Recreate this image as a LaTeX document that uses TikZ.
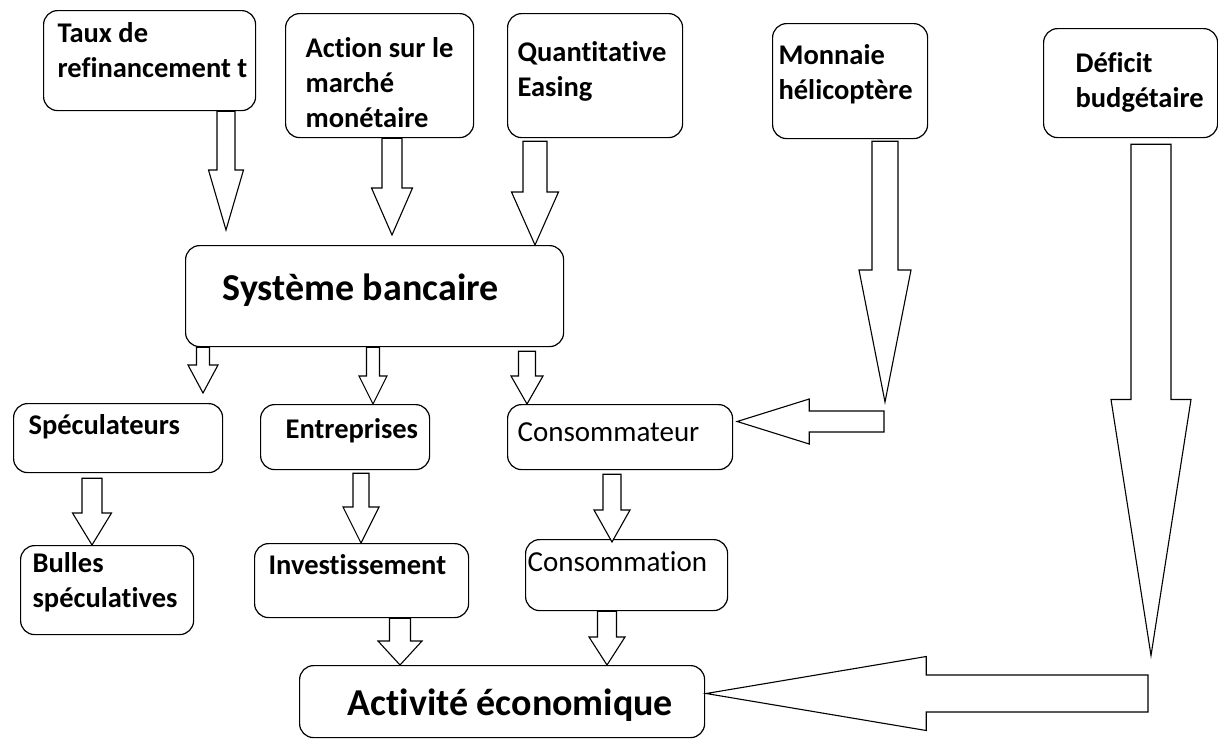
\documentclass[tikz,border=0pt]{standalone}
\usepackage{fontspec}
\setmainfont[Ligatures=NoCommon]{Carlito}
\usetikzlibrary{calc}

\newcommand{\cadre}[5]{\parbox[c][#2pt][t]{#1pt}{\vspace*{#4pt}\leftskip=#3pt\relax\strut #5}}
\newcommand{\flbas}[6]{\draw[fl] let \p1=(#2), \p2=(#3) in ({#1pt-#4pt},\y1) -- ({#1pt+#4pt},\y1) -- ({#1pt+#4pt},\y2+#6pt) -- ({#1pt+#5pt},\y2+#6pt) -- (#1pt,\y2) -- ({#1pt-#5pt},\y2+#6pt) -- ({#1pt-#4pt},\y2+#6pt) -- cycle;}
\newcommand{\flgauche}[5]{\draw[fl] let \p1=(#1), \p2=(#2) in (\x1,\y1+#3pt) -- (\x2+#5pt,\y1+#3pt) -- (\x2+#5pt,\y1+#4pt) -- (\x2,\y1) -- (\x2+#5pt,\y1-#4pt) -- (\x2+#5pt,\y1-#3pt) -- (\x1,\y1-#3pt) -- cycle;}

\begin{document}
\begin{tikzpicture}[x=1pt, y=-1pt, box/.style={draw, line width=1.2pt, rounded corners=14pt, inner sep=0pt, anchor=north west, font=\bfseries\fontsize{28.5}{35}\selectfont}, big/.style={font=\bfseries\fontsize{38}{46}\selectfont}, fin/.style={font=\fontsize{29}{35}\selectfont}, fl/.style={draw, line width=1.1pt, fill=white, line join=miter}]
\useasboundingbox (0,0) rectangle (1218,740);
\begin{scope}
\node[box] (taux) at (43,10) {\cadre{212}{100}{14}{7.5}{Taux de\\refinancement t}};
\node[box] (action) at (285,13) {\cadre{188}{124}{20}{19.5}{Action sur le\\marché\\monétaire}};
\node[box] (qe) at (507,13) {\cadre{175}{124}{10}{23.5}{Quantitative\\Easing}};
\node[box] (monnaie) at (772,23) {\cadre{155}{115}{6}{16.5}{Monnaie\\hélicoptère}};
\node[box] (deficit) at (1043,28) {\cadre{174}{109}{32}{19.5}{Déficit\\budgétaire}};
\node[box,big] (banque) at (185,245) {\cadre{378}{101}{37}{23}{Système bancaire}};
\node[box] (specul) at (13,403) {\cadre{209}{69}{15}{6.5}{Spéculateurs}};
\node[box] (entrep) at (260,404) {\cadre{169}{65}{25}{9.5}{Entreprises}};
\node[box,fin] (conso) at (507,404) {\cadre{225}{65}{10}{12.5}{Consommateur}};
\node[box] (bulles) at (20,545) {\cadre{173}{89}{12}{2.5}{Bulles\\spéculatives}};
\node[box] (invest) at (254,543) {\cadre{214}{74}{14}{6.5}{Investissement}};
\node[box,fin] (consom) at (525,539) {\cadre{202}{71}{2}{7.5}{Consommation}};
\node[box,big] (activite) at (299,665) {\cadre{405}{72}{48}{18}{Activité économique}};
\end{scope}
\coordinate (coudeM) at (884,421.5);
\coordinate (coudeD) at (1148,693.5);
\begin{scope}
\flbas{226}{taux.south}{$(banque.north)+(0,-15)$}{9}{17.5}{60}
\flbas{392}{action.south}{$(banque.north)+(0,-10)$}{10}{20.5}{47}
\flbas{535}{$(qe.south)+(0,3)$}{banque.north}{12}{23.5}{53}
\flbas{885}{$(monnaie.south)+(0,2)$}{$(coudeM)+(0,-19.5)$}{13}{26}{132}
\flgauche{coudeM}{$(conso.east)+(4,0)$}{10.5}{22.5}{72}
\flbas{1151}{$(deficit.south)+(0,6)$}{$(coudeD)+(0,-38)$}{20}{40}{256}
\flgauche{coudeD}{$(activite.east)+(1,0)$}{18.5}{37}{220}
\flbas{203}{banque.south}{$(specul.north)+(0,-10)$}{6.5}{15}{28}
\flbas{373}{banque.south}{entrep.north}{6.5}{14}{28}
\flbas{527}{$(banque.south)+(0,4)$}{conso.north}{8.5}{16}{28}
\flbas{92}{$(specul.south)+(0,5)$}{bulles.north}{10}{19.5}{32}
\flbas{361}{$(entrep.south)+(0,3)$}{invest.north}{8}{18}{36}
\flbas{612}{$(conso.south)+(0,4)$}{$(consom.north)+(0,3)$}{9}{18}{32}
\flbas{400}{invest.south}{activite.north}{10.5}{22}{24}
\flbas{607}{consom.south}{activite.north}{9.5}{18}{28}
\end{scope}
\end{tikzpicture}
\end{document}
